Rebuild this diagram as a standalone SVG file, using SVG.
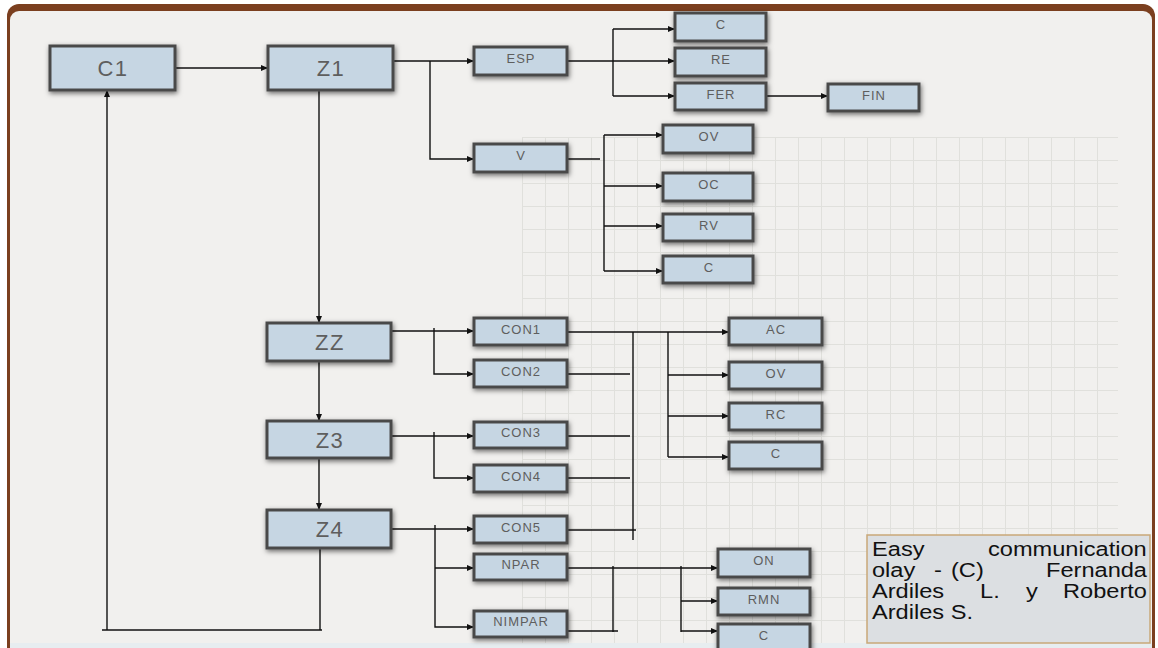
<svg xmlns="http://www.w3.org/2000/svg" width="1158" height="648" viewBox="0 0 1158 648">
  <defs>
    <filter id="soft" x="-20%" y="-40%" width="140%" height="190%">
      <feDropShadow dx="1" dy="2" stdDeviation="2.5" flood-color="#000" flood-opacity="0.55"/>
    </filter>
    <pattern id="grid" x="522" y="137" width="23" height="23" patternUnits="userSpaceOnUse">
      <path d="M0,0.5 H23 M0.5,0 V23" fill="none" stroke="#e0e0dc" stroke-width="1"/>
    </pattern>
    <marker id="arrow" markerUnits="userSpaceOnUse" markerWidth="7" markerHeight="6" refX="7" refY="3" orient="auto">
      <path d="M0,0 L7,3 L0,6 z" fill="#111"/>
    </marker>
    <style>
      .box { fill: #c6d6e3; stroke: #4a4a4a; stroke-width: 3; filter: url(#soft); }
      .lbl { font-family: "Liberation Sans", Arial, sans-serif; fill: #5e5e5e; text-anchor: middle; }
      .sm { font-size: 13px; letter-spacing: 1px; }
      .lg { font-size: 22px; letter-spacing: 1.5px; }
      .wire { fill: none; stroke: #111; stroke-width: 1.4; }
      .arr { marker-end: url(#arrow); }
      .note { font-family: "Liberation Sans", Arial, sans-serif; font-size: 20px; fill: #111; }
    </style>
  </defs>

  <!-- page frame -->
  <rect x="0" y="0" width="1158" height="648" fill="#ffffff"/>
  <rect x="7" y="4" width="1148" height="670" rx="12" fill="#7b3f1f"/>
  <rect x="10" y="11" width="1142" height="660" rx="9" fill="#f1f0ee"/>
  <rect x="522" y="137" width="596" height="506" fill="url(#grid)"/>
  <rect x="10" y="643" width="1142" height="5" fill="#e7edf0"/>

  <!-- connectors -->
  <g id="connectors">
    <path class="wire arr" d="M175,68 H268"/>
    <path class="wire arr" d="M393,61 H474"/>
    <path class="wire arr" d="M430,61 V159 H474"/>
    <path class="wire arr" d="M567,61 H675"/>
    <path class="wire" d="M613,29 V96"/>
    <path class="wire arr" d="M613,29 H675"/>
    <path class="wire arr" d="M613,96 H675"/>
    <path class="wire arr" d="M766,96 H828"/>
    <path class="wire" d="M567,159 H600"/>
    <path class="wire" d="M604,135 V271"/>
    <path class="wire arr" d="M604,135 H663"/>
    <path class="wire arr" d="M604,186 H663"/>
    <path class="wire arr" d="M604,226 H663"/>
    <path class="wire arr" d="M604,271 H663"/>
    <path class="wire arr" d="M319,90 V323"/>
    <path class="wire arr" d="M319,361 V421"/>
    <path class="wire arr" d="M319,458 V510"/>
    <path class="wire" d="M320,548 V630"/>
    <path class="wire" d="M102,630 H322"/>
    <path class="wire arr" d="M107,630 V90"/>
    <path class="wire arr" d="M391,331 H474"/>
    <path class="wire arr" d="M434,328 V374 H474"/>
    <path class="wire arr" d="M391,436 H474"/>
    <path class="wire arr" d="M434,432 V478 H474"/>
    <path class="wire arr" d="M391,529 H474"/>
    <path class="wire arr" d="M435,525 V627 H474"/>
    <path class="wire arr" d="M435,568 H474"/>
    <path class="wire arr" d="M567,332 H729"/>
    <path class="wire" d="M567,374 H630"/>
    <path class="wire" d="M567,436 H630"/>
    <path class="wire" d="M567,478 H630"/>
    <path class="wire" d="M567,530 H636"/>
    <path class="wire" d="M633,332 V540"/>
    <path class="wire" d="M668,332 V457"/>
    <path class="wire arr" d="M668,375 H729"/>
    <path class="wire arr" d="M668,416 H729"/>
    <path class="wire arr" d="M668,457 H729"/>
    <path class="wire arr" d="M567,568 H718"/>
    <path class="wire" d="M567,631 H618"/>
    <path class="wire" d="M613,566 V632"/>
    <path class="wire" d="M681,566 V632"/>
    <path class="wire arr" d="M681,601 H718"/>
    <path class="wire arr" d="M681,631 H718"/>
  </g>

  <!-- nodes -->
  <g id="c1"><rect class="box" x="50" y="46" width="125" height="44"/><text class="lbl lg" x="113" y="76">C1</text></g>
  <g id="z1"><rect class="box" x="268" y="46" width="125" height="44"/><text class="lbl lg" x="331" y="76">Z1</text></g>
  <g id="esp"><rect class="box" x="474" y="47" width="93" height="28"/><text class="lbl sm" x="521" y="63">ESP</text></g>
  <g id="v"><rect class="box" x="474" y="144" width="93" height="28"/><text class="lbl sm" x="521" y="160">V</text></g>
  <g id="c-esp"><rect class="box" x="675" y="13" width="91" height="28"/><text class="lbl sm" x="721" y="29">C</text></g>
  <g id="re"><rect class="box" x="675" y="48" width="91" height="28"/><text class="lbl sm" x="721" y="64">RE</text></g>
  <g id="fer"><rect class="box" x="675" y="83" width="91" height="27"/><text class="lbl sm" x="721" y="99">FER</text></g>
  <g id="fin"><rect class="box" x="828" y="84" width="91" height="27"/><text class="lbl sm" x="874" y="100">FIN</text></g>
  <g id="ov-v"><rect class="box" x="663" y="125" width="90" height="28"/><text class="lbl sm" x="709" y="141">OV</text></g>
  <g id="oc"><rect class="box" x="663" y="173" width="90" height="28"/><text class="lbl sm" x="709" y="189">OC</text></g>
  <g id="rv"><rect class="box" x="663" y="214" width="90" height="27"/><text class="lbl sm" x="709" y="230">RV</text></g>
  <g id="c-v"><rect class="box" x="663" y="256" width="90" height="27"/><text class="lbl sm" x="709" y="272">C</text></g>
  <g id="zz"><rect class="box" x="267" y="323" width="124" height="38"/><text class="lbl lg" x="330" y="350">ZZ</text></g>
  <g id="z3"><rect class="box" x="267" y="421" width="124" height="37"/><text class="lbl lg" x="330" y="448">Z3</text></g>
  <g id="z4"><rect class="box" x="267" y="510" width="124" height="38"/><text class="lbl lg" x="330" y="537">Z4</text></g>
  <g id="con1"><rect class="box" x="474" y="318" width="93" height="27"/><text class="lbl sm" x="521" y="334">CON1</text></g>
  <g id="con2"><rect class="box" x="474" y="360" width="93" height="27"/><text class="lbl sm" x="521" y="376">CON2</text></g>
  <g id="con3"><rect class="box" x="474" y="422" width="93" height="26"/><text class="lbl sm" x="521" y="437">CON3</text></g>
  <g id="con4"><rect class="box" x="474" y="465" width="93" height="27"/><text class="lbl sm" x="521" y="481">CON4</text></g>
  <g id="con5"><rect class="box" x="474" y="516" width="93" height="27"/><text class="lbl sm" x="521" y="532">CON5</text></g>
  <g id="npar"><rect class="box" x="474" y="554" width="93" height="26"/><text class="lbl sm" x="521" y="569">NPAR</text></g>
  <g id="nimpar"><rect class="box" x="474" y="611" width="93" height="26"/><text class="lbl sm" x="521" y="626">NIMPAR</text></g>
  <g id="ac"><rect class="box" x="729" y="318" width="93" height="27"/><text class="lbl sm" x="776" y="334">AC</text></g>
  <g id="ov-con"><rect class="box" x="729" y="362" width="93" height="27"/><text class="lbl sm" x="776" y="378">OV</text></g>
  <g id="rc"><rect class="box" x="729" y="403" width="93" height="27"/><text class="lbl sm" x="776" y="419">RC</text></g>
  <g id="c-con"><rect class="box" x="729" y="442" width="93" height="27"/><text class="lbl sm" x="776" y="458">C</text></g>
  <g id="on"><rect class="box" x="718" y="549" width="92" height="28"/><text class="lbl sm" x="764" y="565">ON</text></g>
  <g id="rmn"><rect class="box" x="718" y="588" width="92" height="27"/><text class="lbl sm" x="764" y="604">RMN</text></g>
  <g id="c-par"><rect class="box" x="718" y="624" width="92" height="27"/><text class="lbl sm" x="764" y="640">C</text></g>

  <!-- credit note: justified lines, every word widened by the same factor -->
  <g id="credit">
    <rect x="867" y="535" width="283" height="108" fill="#dcdfe2" stroke="#c9a878" stroke-width="1.5"/>
    <text class="note" x="872" y="556" textLength="52.5" lengthAdjust="spacingAndGlyphs">Easy</text>
    <text class="note" x="988" y="556" textLength="158.7" lengthAdjust="spacingAndGlyphs">communication</text>
    <text class="note" x="872" y="577" textLength="43.3" lengthAdjust="spacingAndGlyphs">olay</text>
    <text class="note" x="934" y="577" textLength="7.9" lengthAdjust="spacingAndGlyphs">-</text>
    <text class="note" x="951" y="577" textLength="32.8" lengthAdjust="spacingAndGlyphs">(C)</text>
    <text class="note" x="1046" y="577" textLength="101" lengthAdjust="spacingAndGlyphs">Fernanda</text>
    <text class="note" x="872" y="598" textLength="72.1" lengthAdjust="spacingAndGlyphs">Ardiles</text>
    <text class="note" x="980" y="598" textLength="19.7" lengthAdjust="spacingAndGlyphs">L.</text>
    <text class="note" x="1026" y="598" textLength="11.8" lengthAdjust="spacingAndGlyphs">y</text>
    <text class="note" x="1063" y="598" textLength="83.9" lengthAdjust="spacingAndGlyphs">Roberto</text>
    <text class="note" x="872" y="619" textLength="101" lengthAdjust="spacingAndGlyphs">Ardiles S.</text>
  </g>
</svg>
